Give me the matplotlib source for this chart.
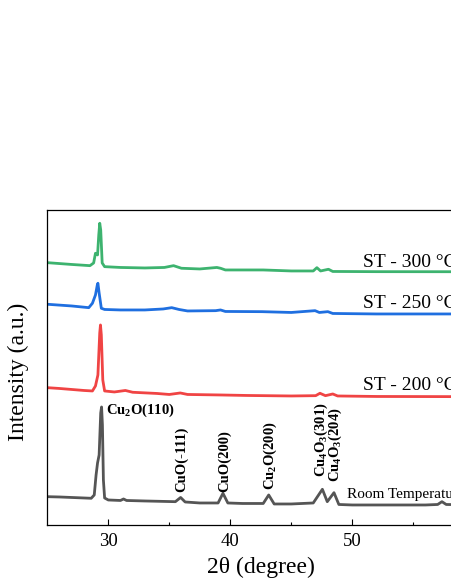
import numpy as np
import matplotlib.pyplot as plt

plt.rcParams['font.family'] = ['Liberation Serif', 'DejaVu Serif']
plt.rcParams['mathtext.fontset'] = 'custom'
plt.rcParams['mathtext.rm'] = 'Liberation Serif'
plt.rcParams['mathtext.bf'] = 'Liberation Serif:bold'

# XRD patterns (2theta, offset intensity in a.u.)
rt_x = [25, 26, 27, 28, 28.6, 28.85, 29.0, 29.12, 29.25, 29.38, 29.45, 29.52, 29.6, 29.7,
        30.0, 31.0, 31.25, 31.5, 33, 35.5, 35.93, 36.3, 37.5, 39.0, 39.4, 39.8, 41, 42.7,
        43.15, 43.6, 45, 46.8, 47.55, 47.95, 48.5, 48.9, 50, 53, 56, 57.0, 57.35, 57.7, 60, 80]
rt_y = [28.3, 28, 27.5, 27, 26.7, 30, 50, 62, 70, 112, 118, 100, 45, 27,
        25, 24.5, 26, 24.5, 24, 23.3, 27.5, 23, 22, 22, 31.7, 22, 21.5, 21.5,
        30, 21, 21, 22, 35.7, 23.3, 32.3, 20.5, 20, 20, 20, 20.5, 23.3, 20.5, 20, 20]

st200_x = [25, 26, 27, 28, 28.7, 28.95, 29.15, 29.3, 29.36, 29.43, 29.55, 29.7, 30.5, 31.4,
           32, 34, 35, 35.9, 36.5, 39.2, 41.4, 45, 47.0, 47.35, 47.8, 48.4, 48.8, 52, 60, 80]
st200_y = [137.3, 136.5, 135.5, 134.5, 134, 139, 150, 192, 200, 190, 145, 134, 133, 134.5,
           132.7, 131.5, 130.5, 132, 130.5, 130, 129.5, 129, 129.3, 131.7, 129.3, 131, 129, 128.5, 128.3, 128]

st250_x = [25, 27, 28.4, 28.7, 28.95, 29.1, 29.15, 29.25, 29.43, 29.7, 31, 33, 34.5, 35.2,
           35.8, 36.5, 38.8, 39.2, 39.6, 42.6, 45, 46.95, 47.3, 48.0, 48.4, 52, 60, 80]
st250_y = [220.7, 219, 217.3, 221.7, 230, 240, 241.7, 232, 216.7, 215.5, 215, 215, 216, 217.3,
           215.5, 214, 214.3, 215, 213.5, 213.3, 212.5, 214.3, 212.5, 213.3, 211.5, 211, 211, 211]

st300_x = [25, 27, 28.5, 28.8, 28.95, 29.05, 29.12, 29.22, 29.3, 29.38, 29.5, 29.7, 31, 33,
           34.6, 35.35, 36, 37.5, 38.9, 39.2, 39.6, 42.7, 45, 46.8, 47.1, 47.4, 48.05, 48.4, 52, 80]
st300_y = [262.3, 260.5, 259.3, 262, 271.7, 271, 270, 290, 301.7, 295, 262, 258.3, 257.5, 257,
           257.5, 259.3, 256.7, 256, 257.5, 256.7, 255, 255, 254, 254, 257.3, 254, 255.7, 253.5, 253.3, 253]

names = ['Room Temperature', 'ST - 200 °C', 'ST - 250 °C', 'ST - 300 °C']
colors = ['#555555', '#f04444', '#1f6fe0', '#3db36f']

peak_labels = ['CuO(-111)', 'CuO(200)', r'Cu$_\mathbf{2}$O(200)',
               r'Cu$_\mathbf{4}$O$_\mathbf{3}$(301)', r'Cu$_\mathbf{4}$O$_\mathbf{3}$(204)']
peak_pos = [36.0, 39.5, 43.3, 47.45, 48.65]
peak_base = [33.3, 33.3, 35, 48.3, 43.3]

fig = plt.figure(figsize=(4.52, 5.85), dpi=100)
# axes run past the right edge of the figure, like the cropped original
ax = fig.add_axes([0.1046, 0.1026, 1.4845, 0.5385])

xs = [rt_x, st200_x, st250_x, st300_x]
ys = [rt_y, st200_y, st250_y, st300_y]
for x, y, c in zip(xs, ys, colors):
    ax.plot(x, y, color=c, lw=2.0)

ax.set_xlim(25, 80)
ax.set_ylim(0, 315)
ax.set_yticks([])
ax.set_xticks([30, 40, 50, 60, 70, 80])
ax.set_xticks([35, 45, 55, 65, 75], minor=True)
ax.tick_params(axis='x', which='major', direction='in', length=4, width=0.8, labelsize=13.5, pad=6)
ax.tick_params(axis='x', which='minor', direction='in', length=2, width=0.8)
for s in ax.spines.values():
    s.set_linewidth(0.9)

ax.set_xlabel('2θ (degree)', fontsize=17)
ax.xaxis.set_label_coords(0.3185, -0.10)
ax.set_ylabel('Intensity (a.u.)', fontsize=17)
ax.yaxis.set_label_coords(-0.0273, 0.486)

ax.text(49.54, 26.7, names[0], fontsize=11, va='baseline')
ax.text(50.85, 135, names[1], fontsize=14, va='baseline')
ax.text(50.85, 216.7, names[2], fontsize=14, va='baseline')
ax.text(50.85, 258.3, names[3], fontsize=14, va='baseline')

ax.text(29.84, 115, r'Cu$_\mathbf{2}$O(110)', fontsize=10.5, fontweight='bold', va='center')
for lab, px, pb in zip(peak_labels, peak_pos, peak_base):
    ax.text(px, pb, lab, fontsize=10.5, fontweight='bold', rotation=90, ha='center', va='bottom')

fig.savefig('out.png', dpi=100)
